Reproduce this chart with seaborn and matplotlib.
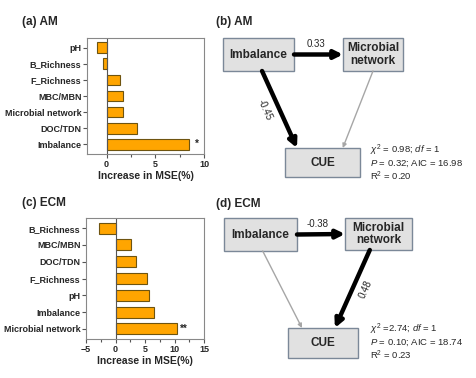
import matplotlib
matplotlib.use("Agg")
import matplotlib.pyplot as plt
import seaborn as sns
import pandas as pd
from matplotlib.patches import Rectangle, FancyArrowPatch
from matplotlib.ticker import MultipleLocator

# random forest importance, increase in MSE (%)
am_vars = ["pH", "B_Richness", "F_Richness", "MBC/MBN", "Microbial network", "DOC/TDN", "Imbalance"]
am_mse = [-1.0, -0.35, 1.35, 1.7, 1.7, 3.1, 8.5]
am_sig = ["", "", "", "", "", "", "*"]

ecm_vars = ["B_Richness", "MBC/MBN", "DOC/TDN", "F_Richness", "pH", "Imbalance", "Microbial network"]
ecm_mse = [-2.8, 2.55, 3.45, 5.35, 5.6, 6.6, 10.4]
ecm_sig = ["", "", "", "", "", "", "**"]

# SEM path coefficients: Imbalance->network, Imbalance->CUE, network->CUE (None = n.s.)
am_paths = ["0.33", "-0.45", None]
ecm_paths = ["-0.38", None, "0.48"]

am_stats = [r"$\chi^2$ = 0.98; $df$ = 1", r"$P$ = 0.32; AIC = 16.98", r"R$^2$ = 0.20"]
ecm_stats = [r"$\chi^2$ =2.74; $df$ = 1", r"$P$ = 0.10; AIC = 18.74", r"R$^2$ = 0.23"]

sns.set_style("white")
plt.rcParams["font.family"] = ["Liberation Sans", "DejaVu Sans"]
plt.rcParams["mathtext.fontset"] = "custom"
plt.rcParams["mathtext.rm"] = "Liberation Sans"
plt.rcParams["mathtext.it"] = "Liberation Sans:italic"

fig = plt.figure(figsize=(4.76, 3.78), dpi=100)


def bar_panel(rect, names, vals, sig, xlim, major):
    ax = fig.add_axes(rect)
    df = pd.DataFrame({"var": names, "mse": vals})
    sns.barplot(data=df, x="mse", y="var", orient="h", color="#FFA500",
                edgecolor="#6e5410", linewidth=0.8, width=0.66, saturation=1, ax=ax)
    ax.axvline(0, color="#555555", lw=0.8)
    for i, (v, s) in enumerate(zip(vals, sig)):
        if s:
            ax.text(v + 0.6, i, s, va="center", ha="left", fontsize=7, fontweight="bold")
    ax.set_xlim(*xlim)
    ax.set_ylim(len(names) - 0.4, -0.6)
    ax.xaxis.set_major_locator(MultipleLocator(major))
    ax.xaxis.set_minor_locator(MultipleLocator(major / 2))
    ax.tick_params(axis="both", which="major", direction="out", length=3, width=0.8,
                   color="#555555", labelsize=6.5, bottom=True, left=True, pad=1)
    ax.tick_params(axis="x", which="minor", direction="out", length=2, width=0.8,
                   color="#555555", bottom=True)
    for lab in ax.get_xticklabels() + ax.get_yticklabels():
        lab.set_fontweight("bold")
    for sp in ax.spines.values():
        sp.set_color("#888888")
        sp.set_linewidth(0.8)
    ax.set_ylabel("")
    ax.set_xlabel("Increase in MSE(%)", fontsize=7.5, fontweight="bold", labelpad=2)
    return ax


bar_panel([87 / 476, 1 - 154 / 378, 117 / 476, 116 / 378], am_vars, am_mse, am_sig, (-2, 10), 5)
bar_panel([86 / 476, 1 - 339 / 378, 118 / 476, 121 / 378], ecm_vars, ecm_mse, ecm_sig, (-5, 15), 5)

# overlay in pixel coordinates for titles and path diagrams
ov = fig.add_axes([0, 0, 1, 1])
ov.set_xlim(0, 476)
ov.set_ylim(378, 0)
ov.axis("off")

for x, y, t in [(22, 22, "(a) AM"), (216, 22, "(b) AM"), (22, 203, "(c) ECM"), (216, 204, "(d) ECM")]:
    ov.text(x, y, t, fontsize=8.5, fontweight="bold", va="center", ha="left")


def box(x, y, w, h, label):
    ov.add_patch(Rectangle((x, y), w, h, facecolor="#e1e1e1", edgecolor="#7b8898", lw=1.0))
    ov.text(x + w / 2, y + h / 2, label, ha="center", va="center", fontsize=8.5,
            fontweight="bold", linespacing=1.05)


def arrow(p0, p1, coef):
    sig = coef is not None
    ov.add_patch(FancyArrowPatch(p0, p1, arrowstyle="-|>",
                                 mutation_scale=12 if sig else 6,
                                 lw=3.2 if sig else 1.0,
                                 color="black" if sig else "#a6a6a6",
                                 shrinkA=0, shrinkB=0))


def diagram(imb, net, cue, fr, paths, spots, stats, sx, sy):
    box(*imb, "Imbalance")
    box(*net, "Microbial\nnetwork")
    box(*cue, "CUE")
    ends = [
        ((imb[0] + imb[2], imb[1] + imb[3] / 2), (net[0], net[1] + net[3] / 2)),
        ((imb[0] + fr[0] * imb[2], imb[1] + imb[3]), (cue[0] + fr[1] * cue[2], cue[1])),
        ((net[0] + fr[2] * net[2], net[1] + net[3]), (cue[0] + fr[3] * cue[2], cue[1])),
    ]
    for (p0, p1), coef, spot in zip(ends, paths, spots):
        arrow(p0, p1, coef)
        if coef is not None:
            ov.text(spot[0], spot[1], coef, fontsize=7, ha="center", va="center", rotation=spot[2])
    for k, s in enumerate(stats):
        ov.text(sx, sy + k * 13, s, fontsize=6.8, ha="left", va="center")


diagram((223, 38, 71, 33), (343, 38, 60, 33), (285, 148, 75, 29), (0.55, 0.16, 0.5, 0.77),
        am_paths, [(316, 44, 0), (265, 110, -66), None], am_stats, 370, 150)
diagram((224, 218, 73, 33), (345, 218, 67, 32), (288, 328, 70, 30), (0.53, 0.2, 0.37, 0.67),
        ecm_paths, [(318, 224, 0), None, (366, 289, 66)], ecm_stats, 370, 329)

fig.savefig("out.png", dpi=100)
